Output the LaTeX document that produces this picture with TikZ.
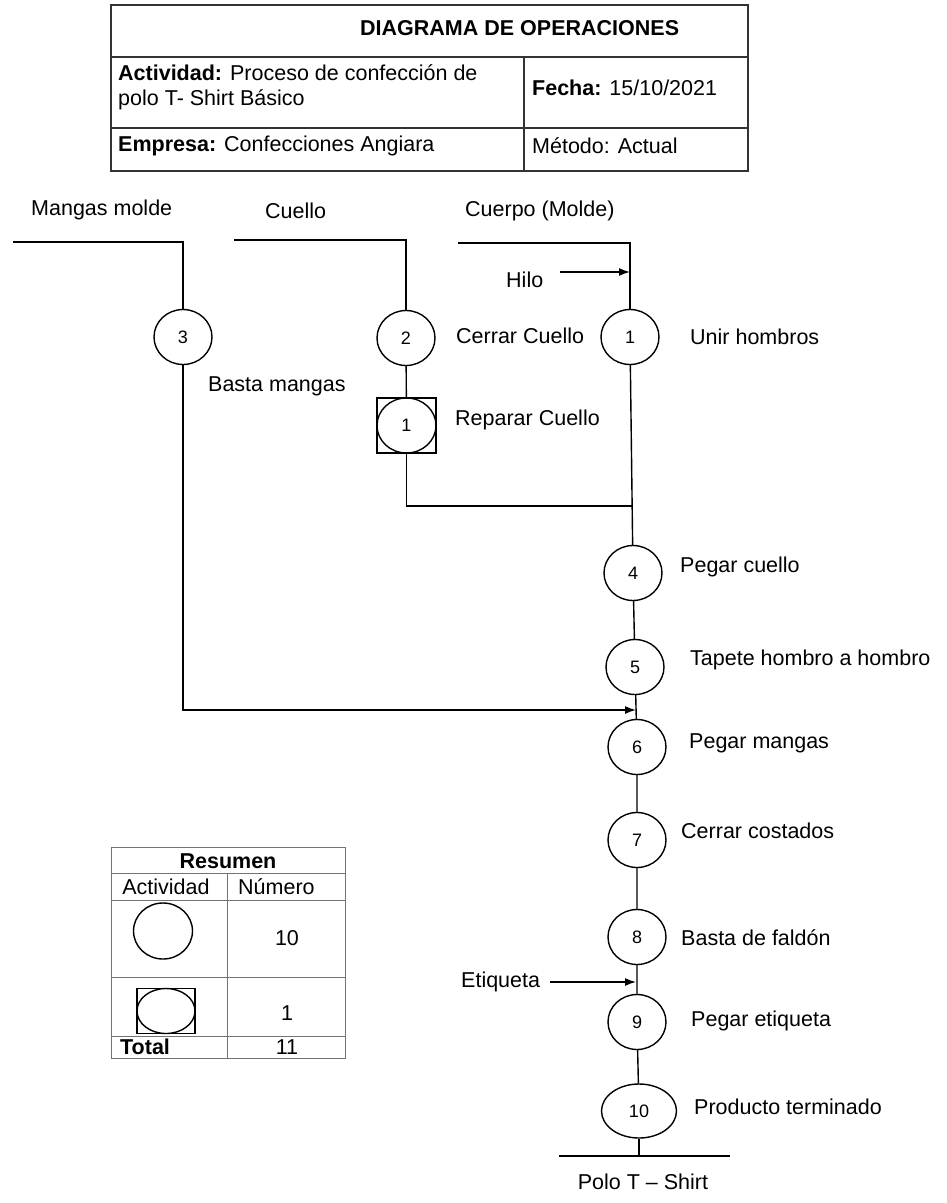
\documentclass[tikz,border=0pt]{standalone}
\usepackage{fontspec}
\setmainfont{Liberation Sans}
\usetikzlibrary{arrows.meta,calc,shapes.geometric}
\begin{document}
\begin{tikzpicture}[x=1pt,y=-1pt,
  every node/.style={inner sep=0pt, font=\fontsize{21.5}{26}\selectfont},
  lbl/.style={anchor=west},
  op/.style={ellipse, draw, line width=1.4pt, minimum width=58pt, minimum height=55pt,
             font=\fontsize{18}{20}\selectfont},
  insp/.style={rectangle, draw, line width=1.4pt, minimum width=59pt, minimum height=55pt},
  flow/.style={line width=1.4pt},
  arr/.style={flow, -{Latex[length=11pt,width=8pt]}},
  hdr/.style={draw=black!80, line width=1.3pt},
  grid/.style={draw=black!55, line width=1pt}]
\useasboundingbox (0,0) rectangle (946,1203);

% ---------- header table ----------
\draw[hdr] (111,5) rectangle (748,171);
\draw[hdr] (111,57) -- (748,57);
\draw[hdr] (111,128) -- (748,128);
\draw[hdr] (524,57) -- (524,171);
\node[lbl] (title) at (360,28) {\textbf{DIAGRAMA DE OPERACIONES}};
\node[lbl] (act1) at (118,73) {\textbf{Actividad:} Proceso de confección de};
\node[lbl] (act2) at (118,100) {polo T- Shirt Básico};
\node[lbl] (fecha) at (532,88) {\textbf{Fecha:} 15/10/2021};
\node[lbl] (emp) at (118,146) {\textbf{Empresa:} Confecciones Angiara};
\node[lbl] (met) at (532,146) {Método: Actual};

% ---------- inputs ----------
\node[lbl] (tm) at (31,210) {Mangas molde};
\node[lbl] (tc) at (265,211) {Cuello};
\node[lbl] (tb) at (465,211) {Cuerpo (Molde)};

\coordinate (m0) at (13,242);  \coordinate (m1) at (183,242);
\coordinate (k0) at (234,240); \coordinate (k1) at (406,240);
\coordinate (b0) at (458,243); \coordinate (b1) at (630,243);

% ---------- operations ----------
\node[op] (c3) at (183,337) {3};
\node[op] (c2) at (406,338) {2};
\node[op] (c1) at (630,337) {1};
\node[insp] (r1) at (406.5,425.5) {};
\node[op, minimum width=59pt] (r1e) at (406.5,425.5) {1};
\node[op] (c4) at (633,573) {4};
\node[op] (c5) at (635,667) {5};
\node[op] (c6) at (637,747) {6};
\node[op] (c7) at (637,840) {7};
\node[op] (c8) at (637,937) {8};
\node[op] (c9) at (637,1022) {9};
\node[op, minimum width=75pt, minimum height=54pt] (c10) at (639,1111) {10};

% ---------- labels ----------
\node[lbl] (l2) at (456,336) {Cerrar Cuello};
\node[lbl] (l1) at (690,337) {Unir hombros};
\node[lbl] (l3) at (208,386) {Basta mangas};
\node[lbl] (lr) at (455,420) {Reparar Cuello};
\node[lbl] (l4) at (680,567) {Pegar cuello};
\node[lbl] (l5) at (690,660) {Tapete hombro a hombro};
\node[lbl] (l6) at (689,743) {Pegar mangas};
\node[lbl] (l7) at (681,831) {Cerrar costados};
\node[lbl] (l8) at (681,938) {Basta de faldón};
\node[lbl] (l9) at (691,1021) {Pegar etiqueta};
\node[lbl] (l10) at (694,1107) {Producto terminado};
\node (prod) at (643,1182) {Polo T – Shirt};

% ---------- material arrows ----------
\node[lbl] (hilo) at (506,280) {Hilo};
\coordinate (h0) at (560,272); \coordinate (h1) at (630,272);
\node[lbl] (etq) at (461,982) {Etiqueta};
\coordinate (e0) at (550,982); \coordinate (e1) at (636,982);

% ---------- connectors ----------
\draw[flow] (m0) -- (m1) -- (c3.north);
\draw[flow] (k0) -- (k1) -- (c2.north);
\draw[flow] (b0) -- (b1) -- (c1.north);
\draw[arr] (h0) -- (h1);
\draw[flow] (c2) -- (r1);
\coordinate (j1) at (632,506);
\draw[flow] (r1.south) |- (j1);
\draw[flow] (c1) -- (c4) -- (c5) -- (c6) -- (c7) -- (c8) -- (c9) -- (c10);
\coordinate (j2) at (636,710);
\draw[arr] (c3.south) |- (j2);
\draw[arr] (e0) -- (e1);
\coordinate (pe) at (639,1156);
\coordinate (pl) at (559,1156); \coordinate (pr) at (730,1156);
\draw[flow] (c10) -- (pe);
\draw[flow] (pl) -- (pr);

% ---------- summary table ----------
\draw[grid] (111,847) rectangle (345,1058);
\draw[grid] (111,873) -- (345,873);
\draw[grid] (111,900) -- (345,900);
\draw[grid] (111,977) -- (345,977);
\draw[grid] (111,1036) -- (345,1036);
\draw[grid] (227,873) -- (227,1058);
\node (res) at (228,861) {\textbf{Resumen}};
\node (sa) at (166,887) {Actividad};
\node[lbl] (sn) at (238,887) {Número};
\node[op, minimum width=59pt, minimum height=56pt] (ic1) at (163,931) {};
\node[insp, minimum width=58pt, minimum height=45pt] (ic2) at (166,1011) {};
\node[op, minimum width=58pt, minimum height=45pt] (ic2e) at (166,1011) {};
\node (n1) at (287,938) {10};
\node (n2) at (287,1013) {1};
\node[lbl] (tot) at (120,1047) {\textbf{Total}};
\node (n3) at (287,1047) {11};
\end{tikzpicture}
\end{document}
